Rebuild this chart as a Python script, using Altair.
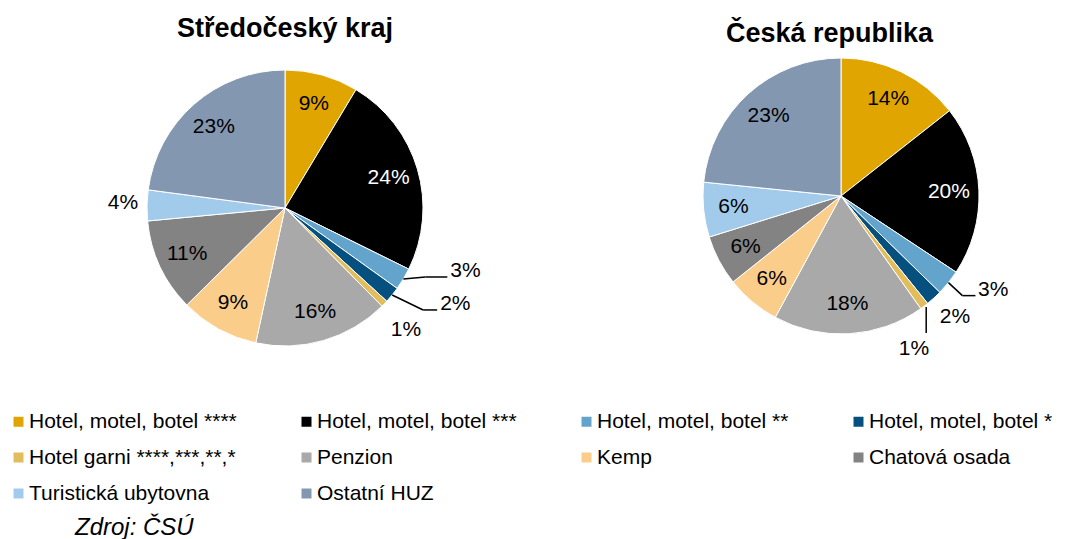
import altair as alt
import pandas as pd

categories = [
    "Hotel, motel, botel ****",
    "Hotel, motel, botel ***",
    "Hotel, motel, botel **",
    "Hotel, motel, botel *",
    "Hotel garni ****,***,**,*",
    "Penzion",
    "Kemp",
    "Chatová osada",
    "Turistická ubytovna",
    "Ostatní HUZ",
]
colors = ["#E0A500", "#000000", "#62A4CC", "#06507F", "#E2BD5B",
          "#A9A9A9", "#FBCD8A", "#838383", "#A2CBEB", "#8497B0"]

stredocesky_kraj = [8.6, 23.7, 2.6, 1.9, 0.8, 15.8, 9.2, 10.9, 3.6, 22.9]
ceska_republika = [14.4, 19.9, 3.0, 1.9, 1.0, 17.7, 6.4, 5.9, 6.4, 23.4]

FONT = "Liberation Sans"
R_OUT = 138
R_IN = 108
TOP = 8  # page y of the panels' top edge

legend = alt.Legend(
    title=None, orient="none", legendX=0, legendY=403, columns=4, direction="horizontal",
    padding=0, symbolType="square", symbolSize=100, symbolStrokeWidth=0,
    labelFont=FONT, labelFontSize=21, labelColor="black", labelOffset=0,
    labelLimit=500, columnPadding=59, rowPadding=14, gridAlign="each",
)


def pie(values, title, W, H, outside, title_base_y, title_dx):
    df = pd.DataFrame({"category": categories,
                       "idx": list(range(len(categories))),
                       "pct": values})
    xs = alt.Scale(domain=[-W / 2, W / 2], nice=False, zero=False)
    ys = alt.Scale(domain=[-H / 2, H / 2], nice=False, zero=False)

    base = (
        alt.Chart(df)
        .transform_window(cum="sum(pct)", sort=[alt.SortField("idx", order="ascending")], frame=[None, 0])
        .transform_calculate(ang="(datum.cum - datum.pct / 2) / 100 * 2 * PI")
        .transform_calculate(frac="datum.pct / 100")
        .transform_calculate(ex=f"sin(datum.ang) * {R_OUT}")
        .transform_calculate(ey=f"cos(datum.ang) * {R_OUT}")
        .transform_calculate(ix=f"sin(datum.ang) * {R_IN}")
        .transform_calculate(iy=f"cos(datum.ang) * {R_IN}")
    )

    arcs = alt.Chart(df).mark_arc(outerRadius=R_OUT, stroke="white", strokeWidth=1).encode(
        theta=alt.Theta("pct:Q", stack=True),
        color=alt.Color("category:N", scale=alt.Scale(domain=categories, range=colors), legend=legend),
        order=alt.Order("idx:Q", sort="ascending"),
    )

    inside_idx = [i for i in range(len(categories)) if i not in outside]
    inner = base.transform_filter(
        alt.FieldOneOfPredicate(field="idx", oneOf=inside_idx)
    ).mark_text(font=FONT, fontSize=21, baseline="middle", align="center").encode(
        x=alt.X("ix:Q", scale=xs, axis=None),
        y=alt.Y("iy:Q", scale=ys, axis=None),
        text=alt.Text("frac:Q", format=".0%"),
        color=alt.condition("datum.idx == 1", alt.value("white"), alt.value("black")),
    )

    head = alt.Chart(pd.DataFrame({"title": [title]})).mark_text(
        font=FONT, fontSize=27, fontWeight="bold", color="black", align="center", baseline="alphabetic"
    ).encode(
        text="title:N",
        x=alt.value(W / 2 + title_dx),
        y=alt.value(title_base_y - TOP),
    )

    layers = [arcs, inner, head]
    for idx, spec in outside.items():
        dx, dy, align, segs = spec
        sub = base.transform_filter(f"datum.idx == {idx}")
        txt = sub.transform_calculate(tx=f"datum.ex + ({dx})").transform_calculate(
            ty=f"datum.ey - ({dy})"
        ).mark_text(font=FONT, fontSize=21, baseline="middle", align=align, color="black").encode(
            x=alt.X("tx:Q", scale=xs, axis=None),
            y=alt.Y("ty:Q", scale=ys, axis=None),
            text=alt.Text("frac:Q", format=".0%"),
        )
        layers.append(txt)
        for (x0, y0, x1, y1) in segs:
            rule = sub.transform_calculate(ax=f"datum.ex + ({x0})").transform_calculate(
                ay=f"datum.ey - ({y0})"
            ).transform_calculate(bx=f"datum.ex + ({x1})").transform_calculate(
                by=f"datum.ey - ({y1})"
            ).mark_rule(color="black", strokeWidth=1.5).encode(
                x=alt.X("ax:Q", scale=xs, axis=None),
                y=alt.Y("ay:Q", scale=ys, axis=None),
                x2="bx:Q",
                y2="by:Q",
            )
            layers.append(rule)

    return alt.layer(*layers).properties(width=W, height=H)


left_out = {
    2: (47, -8, "left", [(0, 0, 22, -2), (22, -2, 44, -2)]),
    3: (48, 9.5, "left", [(0, 0, 31, 15), (31, 15, 45, 15)]),
    4: (21.6, 26.3, "center", []),
    8: (-24, -2.4, "center", []),
}
right_out = {
    2: (29.6, 7.4, "left", [(0, 0, 14, 13), (14, 13, 27, 13)]),
    3: (21, 19.4, "center", []),
    4: (-10.3, 43.4, "center", [(2, 1, 2, 27)]),
}

left = pie(stredocesky_kraj, "Středočeský kraj", 554, 2 * (208 - TOP), left_out, 37, 0)
right = pie(ceska_republika, "Česká republika", 398, 2 * (196 - TOP), right_out, 42, -11.5)

chart = alt.hconcat(left, right, spacing=80).resolve_scale(
    color="shared", x="independent", y="independent", theta="independent"
).properties(
    padding={"left": 0, "top": 0, "right": 0, "bottom": 0},
    title=alt.TitleParams(text="Zdroj: ČSÚ", orient="bottom", anchor="start", dx=67, offset=12,
                          font=FONT, fontSize=24, fontStyle="italic", fontWeight="normal",
                          baseline="top", color="black", frame="group"),
).configure(background="white").configure_view(stroke="transparent", strokeWidth=0)

chart.save("out.html", embed_options={"renderer": "svg", "actions": False})
